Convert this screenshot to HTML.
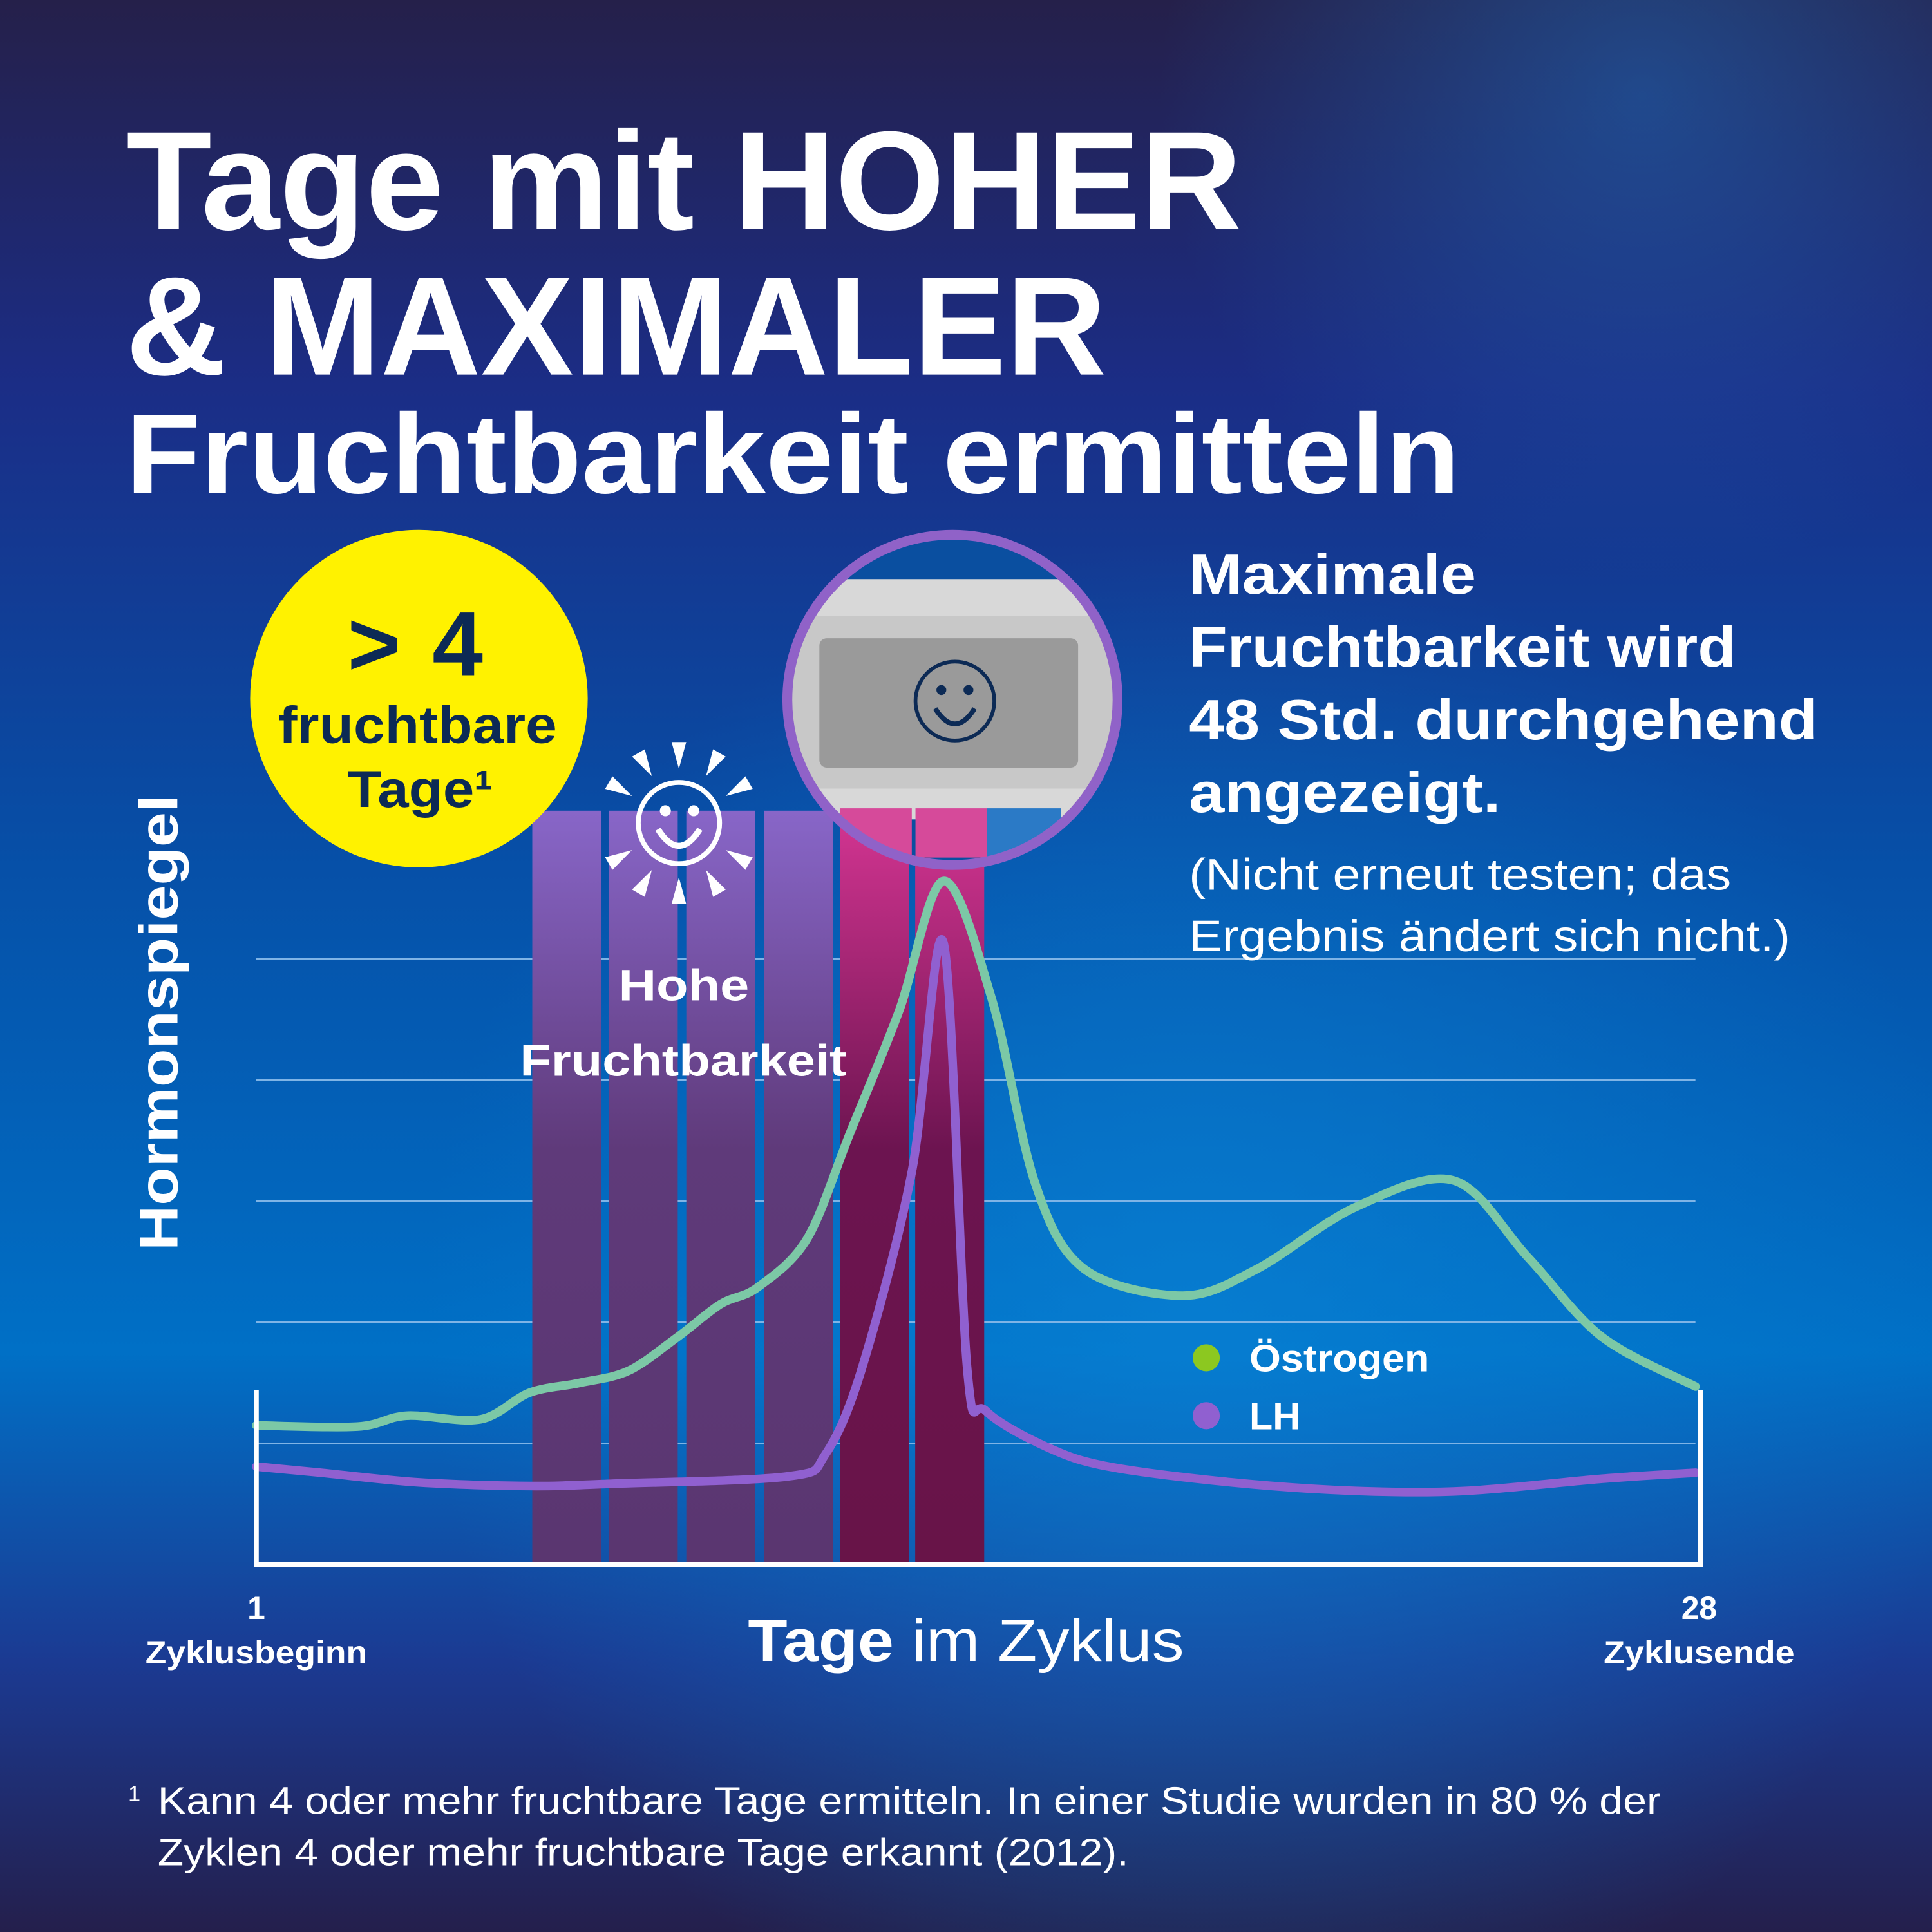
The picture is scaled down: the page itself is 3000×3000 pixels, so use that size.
<!DOCTYPE html>
<html><head><meta charset="utf-8"><style>
html,body{margin:0;padding:0;width:3000px;height:3000px;overflow:hidden;background:#1b2a78}
svg{display:block}
text{font-family:"Liberation Sans",sans-serif}
</style></head><body>
<svg id="chart" width="3000" height="3000" viewBox="0 0 1568 1568" xmlns="http://www.w3.org/2000/svg">
<defs>
<linearGradient id="bg" x1="0" y1="0" x2="0" y2="1">
<stop offset="0" stop-color="#25204a"/><stop offset="0.2" stop-color="#1b2d86"/>
<stop offset="0.45" stop-color="#0650a8"/><stop offset="0.7" stop-color="#0070c6"/>
<stop offset="0.86" stop-color="#1b3a92"/><stop offset="1" stop-color="#241f4c"/>
</linearGradient>
<radialGradient id="glow" cx="0.62" cy="0.68" r="0.4">
<stop offset="0" stop-color="#0a86d8" stop-opacity="0.6"/><stop offset="1" stop-color="#0a86d8" stop-opacity="0"/>
</radialGradient>
<radialGradient id="glow2" cx="0.85" cy="0.05" r="0.25">
<stop offset="0" stop-color="#1f6fc0" stop-opacity="0.5"/><stop offset="1" stop-color="#1f6fc0" stop-opacity="0"/>
</radialGradient>
<linearGradient id="gp" x1="0" y1="658" x2="0" y2="1270" gradientUnits="userSpaceOnUse">
<stop offset="0" stop-color="#8866c8"/><stop offset="0.45" stop-color="#5f3a7a"/><stop offset="1" stop-color="#5a3670"/>
</linearGradient>
<linearGradient id="gm" x1="0" y1="658" x2="0" y2="1270" gradientUnits="userSpaceOnUse">
<stop offset="0" stop-color="#d43592"/><stop offset="0.45" stop-color="#6c1450"/><stop offset="1" stop-color="#681448"/>
</linearGradient>
<clipPath id="lens"><circle cx="773" cy="568" r="132"/></clipPath>
</defs>
<rect width="1568" height="1568" fill="url(#bg)"/>
<rect width="1568" height="1568" fill="url(#glow)"/>
<rect width="1568" height="1568" fill="url(#glow2)"/>

<g fill="#fff" font-weight="bold">
<text x="102" y="186" font-size="114" textLength="906" lengthAdjust="spacingAndGlyphs">Tage mit HOHER</text>
<text x="102" y="304" font-size="114" textLength="796" lengthAdjust="spacingAndGlyphs">&amp; MAXIMALER</text>
<text x="102" y="400" font-size="92" textLength="1083" lengthAdjust="spacingAndGlyphs">Fruchtbarkeit ermitteln</text>
</g>

<g id="grid"></g>
<g id="bars"></g>
<g id="lines"></g>

<g stroke="#fff" stroke-width="4" fill="none">
<polyline points="208,1128 208,1270 1380,1270 1380,1128"/>
</g>

<text x="502" y="812" font-size="36" font-weight="bold" fill="#fff" textLength="106" lengthAdjust="spacingAndGlyphs">Hohe</text>
<text x="422" y="873" font-size="36" font-weight="bold" fill="#fff" textLength="265" lengthAdjust="spacingAndGlyphs">Fruchtbarkeit</text>

<g fill="#fff">
<circle cx="551" cy="668" r="33" fill="none" stroke="#fff" stroke-width="4"/>
<circle cx="540" cy="658" r="4.5"/><circle cx="563" cy="658" r="4.5"/>
<path d="M534 673 Q551 700 568 673" fill="none" stroke="#fff" stroke-width="5"/>
<g id="rays"></g>
</g>

<g>
<circle cx="340" cy="567" r="137" fill="#fff200"/>
<text x="282" y="548" font-size="74" font-weight="bold" fill="#0c2a55" textLength="110" lengthAdjust="spacing">&gt;4</text>
<text x="226" y="603" font-size="42" font-weight="bold" fill="#0c2a55" textLength="226" lengthAdjust="spacingAndGlyphs">fruchtbare</text>
<text x="282" y="655" font-size="42" font-weight="bold" fill="#0c2a55" textLength="118" lengthAdjust="spacingAndGlyphs">Tage¹</text>
</g>

<g>
<circle cx="773" cy="568" r="132" fill="#0a4fa0"/>
<g clip-path="url(#lens)">
<rect x="620" y="470" width="320" height="195" fill="#d8d8d8"/>
<rect x="620" y="500" width="320" height="140" fill="#c8c8c8"/>
<rect x="665" y="518" width="210" height="105" rx="6" fill="#9a9a9a"/>
<rect x="682" y="656" width="58" height="40" fill="#d64a9a"/>
<rect x="743" y="656" width="58" height="40" fill="#d64a9a"/>
<rect x="801" y="656" width="60" height="40" fill="#2b7ac6"/>
</g>
<circle cx="775" cy="569" r="32" fill="none" stroke="#0c2a55" stroke-width="3"/>
<circle cx="764" cy="560" r="4" fill="#0c2a55"/><circle cx="786" cy="560" r="4" fill="#0c2a55"/>
<path d="M759 575 Q775 600 791 575" fill="none" stroke="#0c2a55" stroke-width="4"/>
<circle cx="773" cy="568" r="134" fill="none" stroke="#9062c8" stroke-width="8"/>
</g>

<g fill="#fff" font-weight="bold" font-size="46">
<text x="965" y="482" textLength="233" lengthAdjust="spacingAndGlyphs">Maximale</text>
<text x="965" y="541" textLength="444" lengthAdjust="spacingAndGlyphs">Fruchtbarkeit wird</text>
<text x="965" y="600" textLength="510" lengthAdjust="spacingAndGlyphs">48 Std. durchgehend</text>
<text x="965" y="659" textLength="253" lengthAdjust="spacingAndGlyphs">angezeigt.</text>
<text x="965" y="722" font-size="36" font-weight="normal" textLength="440" lengthAdjust="spacingAndGlyphs">(Nicht erneut testen; das</text>
<text x="965" y="772" font-size="36" font-weight="normal" textLength="488" lengthAdjust="spacingAndGlyphs">Ergebnis ändert sich nicht.)</text>
</g>

<g font-size="31" font-weight="bold" fill="#fff">
<circle cx="979" cy="1102" r="11" fill="#8cc820"/><text x="1014" y="1113" textLength="146" lengthAdjust="spacingAndGlyphs">Östrogen</text>
<circle cx="979" cy="1149" r="11" fill="#9060d0"/><text x="1014" y="1160">LH</text>
</g>

<text transform="translate(144,830) rotate(-90)" font-size="44" font-weight="bold" fill="#fff" text-anchor="middle" textLength="370" lengthAdjust="spacingAndGlyphs">Hormonspiegel</text>

<g fill="#fff" font-weight="bold" font-size="26" text-anchor="middle">
<text x="208" y="1314">1</text><text x="208" y="1350" textLength="180" lengthAdjust="spacingAndGlyphs">Zyklusbeginn</text>
<text x="1379" y="1314">28</text><text x="1379" y="1350" textLength="155" lengthAdjust="spacingAndGlyphs">Zyklusende</text>
</g>
<text x="607" y="1348" font-size="48" fill="#fff" textLength="354" lengthAdjust="spacingAndGlyphs"><tspan font-weight="bold">Tage</tspan> im Zyklus</text>

<g fill="#fff" font-size="31">
<text x="104" y="1462" font-size="18">1</text>
<text x="128" y="1472" textLength="1220" lengthAdjust="spacingAndGlyphs">Kann 4 oder mehr fruchtbare Tage ermitteln. In einer Studie wurden in 80 % der</text>
<text x="128" y="1514" textLength="788" lengthAdjust="spacingAndGlyphs">Zyklen 4 oder mehr fruchtbare Tage erkannt (2012).</text>
</g>
</svg>
<script>
const estrogenDays=[1,2.89,3.81,5.19,6.11,7.04,7.96,8.88,9.68,10.38,11.3,12.1,13.02,13.85,14.75,15.56,16.48,18.32,19.71,21.55,23.39,24.77,26.16,27.91];
const estrogenValues=[1.15,1.14,1.23,1.2,1.42,1.5,1.6,1.88,2.15,2.29,2.69,3.56,4.57,5.64,4.67,3.15,2.44,2.22,2.44,2.95,3.17,2.54,1.88,1.47];
const lhDays=[1,2.2,4.04,6.11,7.73,10.95,11.64,12.33,13.26,13.85,14.29,14.64,15.79,16.94,19.24,21.55,23.62,26.16,27.91];
const lhValues=[0.81,0.76,0.68,0.65,0.67,0.73,0.91,1.63,3.25,5.13,1.63,1.27,0.97,0.81,0.68,0.61,0.61,0.71,0.76];
const barStarts=[6.16,7.59,9.04,10.49,11.92,13.32];
const barTypes=["high","high","high","high","peak","peak"];
const barTop=6.22;
const gridValues=[1,2,3,4,5];
const NS="http://www.w3.org/2000/svg";
const X0=208,X1=1380,Y0=1270,UNIT=98.4;
const xs=d=>X0+(d-1)*(X1-X0)/27;
const ys=v=>Y0-v*UNIT;
const barW=1.29;
const grid=document.getElementById('grid');
gridValues.forEach(v=>{const l=document.createElementNS(NS,'line');
l.setAttribute('x1',208);l.setAttribute('x2',1376);l.setAttribute('y1',ys(v));l.setAttribute('y2',ys(v));
l.setAttribute('stroke','#7fb4e6');l.setAttribute('stroke-width','1.5');


grid.appendChild(l);});
const bars=document.getElementById('bars');
barStarts.forEach((d,i)=>{const r=document.createElementNS(NS,'rect');
r.setAttribute('x',xs(d));r.setAttribute('width',xs(d+barW)-xs(d));
r.setAttribute('y',ys(barTop));r.setAttribute('height',ys(0)-ys(barTop));
r.setAttribute('fill',barTypes[i]==='high'?'url(#gp)':'url(#gm)');


bars.appendChild(r);});
function path(ds,vs){const p=ds.map((d,i)=>[xs(d),ys(vs[i])]);let s='M'+p[0][0]+' '+p[0][1];
for(let i=0;i<p.length-1;i++){const a=p[Math.max(0,i-1)],b=p[i],c=p[i+1],e=p[Math.min(p.length-1,i+2)];
const t=0.16;s+=` C${b[0]+(c[0]-a[0])*t} ${b[1]+(c[1]-a[1])*t} ${c[0]-(e[0]-b[0])*t} ${c[1]-(e[1]-b[1])*t} ${c[0]} ${c[1]}`;}return s;}
const lines=document.getElementById('lines');
[[lhDays,lhValues,'#9060d0','lh-line'],[estrogenDays,estrogenValues,'#7cc8a6','estrogen-line']].forEach(([d,v,c,n])=>{
const p=document.createElementNS(NS,'path');p.setAttribute('d',path(d,v));p.setAttribute('fill','none');
p.setAttribute('stroke',c);p.setAttribute('stroke-width','7');p.setAttribute('stroke-linejoin','round');p.setAttribute('stroke-linecap','round');


lines.appendChild(p);});
const rays=document.getElementById('rays');
for(let k=0;k<12;k++){
const a=k*Math.PI/6;if(k===3||k===9)continue;
const cx=551,cy=668,r1=44,r2=66,w=0.09;
const pts=[[cx+Math.sin(a)*r1,cy-Math.cos(a)*r1],[cx+Math.sin(a-w)*r2,cy-Math.cos(a-w)*r2],[cx+Math.sin(a+w)*r2,cy-Math.cos(a+w)*r2]];
const g=document.createElementNS(NS,'polygon');g.setAttribute('points',pts.map(p=>p.join(',')).join(' '));


rays.appendChild(g);}
</script>
</body></html>
